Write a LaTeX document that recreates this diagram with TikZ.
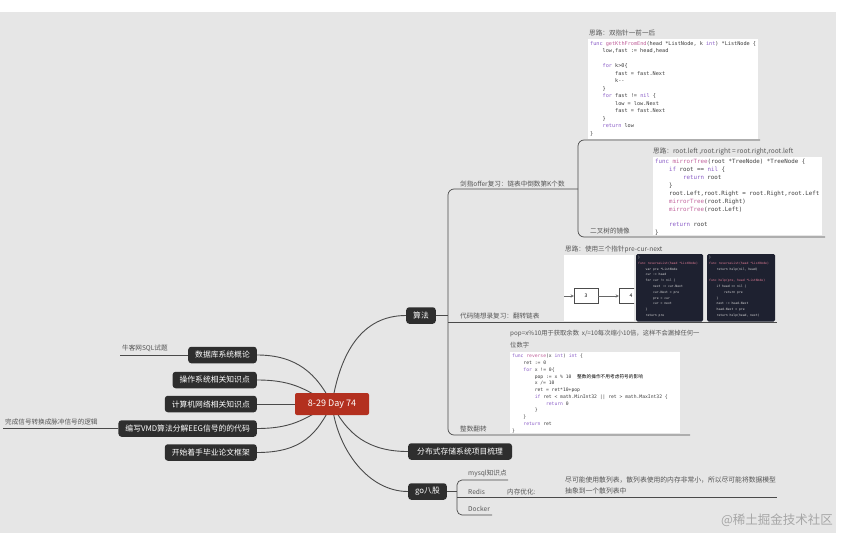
\documentclass[tikz,border=0pt]{standalone}
\usepackage{fontspec}
\setmainfont{Noto Sans CJK SC}
\setmonofont{DejaVu Sans Mono}
\newfontfamily\cjk{Noto Sans CJK SC}
\usepackage{xcolor}
\usepackage{tikz}
\usetikzlibrary{arrows, positioning, backgrounds}

\definecolor{bggray}{HTML}{E6E6E6}
\definecolor{rootred}{HTML}{B3301F}
\definecolor{topicdark}{HTML}{2E2E2E}
\definecolor{leafgray}{HTML}{555555}
\definecolor{linegray}{HTML}{4A4A4A}
\definecolor{codekw}{HTML}{8A5CC7}
\definecolor{codefn}{HTML}{C0609A}
\definecolor{codetxt}{HTML}{3C3C3C}
\definecolor{darkcode}{HTML}{1E2130}
\definecolor{darkfn}{HTML}{E27C96}

\newcommand{\kw}[1]{\textcolor{codekw}{#1}}
\newcommand{\fn}[1]{\textcolor{codefn}{#1}}
\newcommand{\dfn}[1]{\textcolor{darkfn}{#1}}
\newcommand{\tb}{\hspace*{2.4em}}

\begin{document}
\begin{tikzpicture}[
  x=1pt, y=-1pt,
  root/.style={fill=rootred, text=white, rounded corners=2pt, minimum width=74pt,
    minimum height=22pt, inner sep=0pt, font=\fontsize{9}{10}\selectfont},
  topic/.style={fill=topicdark, text=white, rounded corners=3pt, minimum height=16.5pt,
    inner xsep=7pt, inner ysep=0pt, font=\fontsize{7.8}{9}\selectfont},
  leaf/.style={text=leafgray, inner sep=0pt, anchor=base west, font=\fontsize{6.6}{8}\selectfont},
  note/.style={leaf, anchor=north west, align=left, font=\fontsize{6.3}{12}\selectfont},
  branch/.style={draw=linegray, line width=0.9pt},
  twig/.style={draw=linegray, line width=0.7pt},
  img/.style={fill=white, inner sep=0pt, outer sep=0pt, anchor=north west},
  darkimg/.style={img, fill=darkcode, rounded corners=1.5pt},
  code/.style={anchor=north west, align=left, inner sep=0pt, text=codetxt,
    font=\ttfamily\fontsize{5.2}{7.5}\selectfont},
  darktxt/.style={code, text=black!15, font=\ttfamily\fontsize{3.1}{5.8}\selectfont},
  listbox/.style={draw=black!70, fill=white, line width=0.4pt, minimum width=24pt,
    minimum height=15pt, inner sep=0pt, font=\fontsize{5}{6}\selectfont}
]
\useasboundingbox (0,0) rectangle (847,533);

% centre
\node[root] (root) at (332,404) {8-29 Day 74};

% left topics
\node[topic, anchor=east] (db) at (257,355) {数据库系统概论};
\node[topic, anchor=east] (os) at (257,380) {操作系统相关知识点};
\node[topic, anchor=east] (net) at (257,404) {计算机网络相关知识点};
\node[topic, anchor=east] (vmd) at (257,428.5) {编写VMD算法分解EEG信号的的代码};
\node[topic, anchor=east] (thesis) at (257,452.5) {开始着手毕业论文框架};
\node[leaf] (sql) at (122,350.5) {牛客网SQL试题};
\node[leaf] (sig) at (5,424.5) {完成信号转换成脉冲信号的逻辑};

% right topics
\node[topic, anchor=west] (algo) at (406,315.5) {算法};
\node[topic, anchor=west, inner xsep=9pt] (dist) at (408,451.5) {分布式存储系统项目梳理};
\node[topic, anchor=west] (go) at (408,491.5) {go八股};

% algo: jianzhi offer
\node[leaf] (jz) at (460,186) {剑指offer复习：链表中倒数第K个数};
\node[leaf] (kth-note) at (589,35.5) {思路：双指针一前一后};
\node[img, minimum width=170pt, minimum height=100pt] (kth-img) at (588,39) {};
\node[code] (kth-code) at (590,41) {%
\kw{func} \fn{getKthFromEnd}(head *ListNode, k \kw{int}) *ListNode \{\\
\tb low,fast := head,head\\
\mbox{}\\
\tb \kw{for} k>0\{\\
\tb\tb fast = fast.Next\\
\tb\tb k-{}-\\
\tb\}\\
\tb \kw{for} fast != \kw{nil} \{\\
\tb\tb low = low.Next\\
\tb\tb fast = fast.Next\\
\tb\}\\
\tb \kw{return} low\\
\}};
\node[leaf] (mirror) at (590,233) {二叉树的镜像};
\node[leaf] (mirror-note) at (653,153.5) {思路：root.left ,root.right = root.right,root.left};
\node[img, minimum width=169pt, minimum height=78pt] (mirror-img) at (653,157) {};
\node[code, font=\ttfamily\fontsize{5.8}{7.9}\selectfont] (mirror-code) at (655,159) {%
\kw{func} \fn{mirrorTree}(root *TreeNode) *TreeNode \{\\
\tb \kw{if} root == \kw{nil} \{\\
\tb\tb \kw{return} root\\
\tb\}\\
\tb root.Left,root.Right = root.Right,root.Left\\
\tb \fn{mirrorTree}(root.Right)\\
\tb \fn{mirrorTree}(root.Left)\\
\mbox{}\\
\tb \kw{return} root\\
\}};

% algo: reverse list
\node[leaf] (rev) at (460,318.5) {代码随想录复习：翻转链表};
\node[leaf] (rev-note) at (565,251.5) {思路：使用三个指针pre-cur-next};
\node[img, minimum width=70pt, minimum height=66pt] (list-img) at (564,255) {};
\node[listbox] (n3) at (586,296) {3};
\begin{scope}
  \clip (list-img.south west) rectangle (list-img.north east);
  \node[listbox] (n4) at (631,296) {4};
\end{scope}
\coordinate (list-in) at (564,296);
\draw[->, >=stealth, line width=0.4pt, black!60] (list-in) -- (n3);
\draw[->, >=stealth, line width=0.4pt, black!60] (n3) -- (n4);

\node[darkimg, minimum width=67pt, minimum height=67.5pt] (dark1) at (636,254) {};
\begin{scope}
  \clip (dark1.south west) rectangle (dark1.north east);
  \node[darktxt] (dark1-code) at (638,256) {%
\}\\
\dfn{func reverseList(head *ListNode)}\\
\tb var pre *ListNode\\
\tb cur := head\\
\tb for cur != nil \{\\
\tb\tb next := cur.Next\\
\tb\tb cur.Next = pre\\
\tb\tb pre = cur\\
\tb\tb cur = next\\
\tb\}\\
\tb return pre};
\end{scope}
\node[darkimg, minimum width=68pt, minimum height=67.5pt] (dark2) at (707,254) {};
\begin{scope}
  \clip (dark2.south west) rectangle (dark2.north east);
  \node[darktxt] (dark2-code) at (709,256) {%
\}\\
\dfn{func reverseList(head *ListNode)}\\
\tb return help(nil, head)\\
\mbox{}\\
\dfn{func help(pre, head *ListNode)}\\
\tb if head == nil \{\\
\tb\tb return pre\\
\tb\}\\
\tb next := head.Next\\
\tb head.Next = pre\\
\tb return help(head, next)};
\end{scope}

% algo: reverse integer
\node[leaf] (num) at (460,431) {整数翻转};
\node[note] (num-note) at (510,330) {pop=x\%10用于获取余数\ \ x/=10每次缩小10倍，这样不会漏掉任何一\\位数字};
\node[img, minimum width=170pt, minimum height=81pt] (num-img) at (510,352) {};
\node[code, font=\ttfamily\fontsize{4.7}{6.75}\selectfont] (num-code) at (512,354) {%
\kw{func} \fn{reverse}(x \kw{int}) \kw{int} \{\\
\tb ret := 0\\
\tb \kw{for} x != 0\{\\
\tb\tb pop := x \% 10\ \ {\cjk\color{black}整数的操作不用考虑符号的影响}\\
\tb\tb x /= 10\\
\tb\tb ret = ret*10+pop\\
\tb\tb \kw{if} ret < math.MinInt32 || ret > math.MaxInt32 \{\\
\tb\tb\tb \kw{return} 0\\
\tb\tb\}\\
\tb\}\\
\tb \kw{return} ret\\
\}};

% go
\node[leaf] (mysql) at (468,475.5) {mysql知识点};
\node[leaf] (redis) at (468,494) {Redis};
\node[leaf] (memopt) at (507,494) {内存优化:};
\node[note, font=\fontsize{6.8}{11}\selectfont] (hash-note) at (565,476.5) {尽可能使用散列表，散列表使用的内存非常小，所以尽可能将数据模型\\抽象到一个散列表中};
\node[leaf] (docker) at (468,511) {Docker};

% watermark
\node[text=black!35, font=\fontsize{12.5}{14}\selectfont] (mark) at (777,520) {@稀土掘金技术社区};

% line ends
\coordinate (sql-end) at (120,355);
\coordinate (sig-end) at (3,428.5);
\coordinate (algo-fork) at (448,315.5);
\coordinate (jz-end) at (578,189);
\coordinate (kth-end) at (760,140);
\coordinate (mirror-end) at (825,237);
\coordinate (rev-end) at (777,322);
\coordinate (num-end) at (690,435);
\coordinate (go-fork) at (457,491.5);
\coordinate (mysql-end) at (508,480);
\coordinate (redis-end) at (777,497);
\coordinate (docker-end) at (492,515);

\begin{scope}[on background layer]
  \fill[bggray] (0,12) rectangle (836,533);
\end{scope}

% Connectors
\begin{scope}[on background layer]
  \draw[branch] (db.east) .. controls +(40,0) and +(-15,-30) .. (root.center);
  \draw[branch] (os.east) .. controls +(40,0) and +(-25,-12) .. (root.center);
  \draw[branch] (net.east) -- (root.center);
  \draw[branch] (vmd.east) .. controls +(40,0) and +(-25,12) .. (root.center);
  \draw[branch] (thesis.east) .. controls +(45,0) and +(-15,30) .. (root.center);
  \draw[branch] (algo.west) .. controls +(-45,0) and +(8,-50) .. (root.center);
  \draw[branch] (dist.west) .. controls +(-40,0) and +(15,30) .. (root.center);
  \draw[branch] (go.west) .. controls +(-40,0) and +(5,45) .. (root.center);

  \draw[twig] (db.west) -- (sql-end);
  \draw[twig] (vmd.west) -- (sig-end);

  \draw[twig] (algo.east) -- (algo-fork);
  \draw[twig, rounded corners=6pt] (jz-end) -| (algo-fork) |- (num-end);
  \draw[twig] (algo-fork |- rev-end) -- (rev-end);
  \draw[twig, rounded corners=6pt] (kth-end) -| (jz-end) |- (mirror-end);

  \draw[twig] (go.east) -- (go-fork);
  \draw[twig, rounded corners=5pt] (mysql-end) -| (go-fork) |- (docker-end);
  \draw[twig] (go-fork |- redis-end) -- (redis-end);
\end{scope}
\end{tikzpicture}
\end{document}
